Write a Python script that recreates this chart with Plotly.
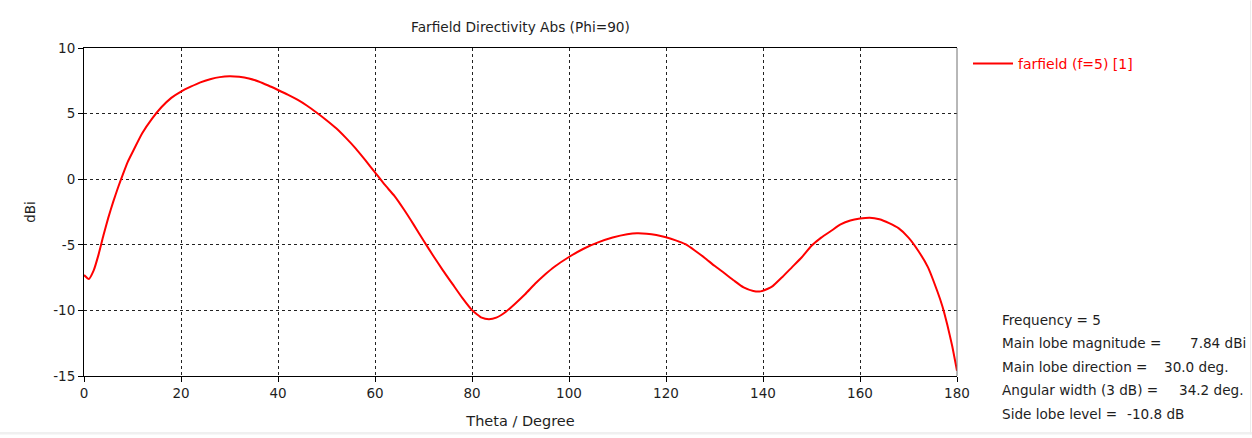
import plotly.graph_objects as go

# Farfield directivity cut at Phi=90, f=5
theta_deg = [0, 1, 2, 3, 4, 5, 6, 7, 8, 9, 10, 12, 14, 16, 18, 20, 22, 24, 26, 28,
             30, 32, 34, 36, 38, 40, 42, 44, 46, 48, 50, 52, 54, 56, 58, 60, 62, 64,
             66, 68, 70, 72, 74, 76, 78, 80, 82, 83.5, 85, 87, 89, 91, 93, 95, 97,
             100, 103, 106, 109, 112, 114, 116, 118, 120, 122, 124, 126, 128, 130,
             132, 134, 136, 138, 139.5, 141, 142, 144, 146, 148, 150, 152, 154, 156,
             158, 160, 162, 164, 166, 168, 170, 172, 174, 176, 177, 178, 179, 180]
directivity_dbi = [-7.3, -7.6, -6.95, -5.75, -4.3, -2.95, -1.75, -0.65, 0.35, 1.3, 2.05,
                   3.5, 4.6, 5.5, 6.2, 6.68, 7.05, 7.38, 7.62, 7.78, 7.84, 7.8, 7.68,
                   7.45, 7.14, 6.8, 6.45, 6.06, 5.6, 5.07, 4.5, 3.88, 3.15, 2.35, 1.45,
                   0.52, -0.42, -1.27, -2.33, -3.48, -4.68, -5.83, -6.95, -8.0, -9.05,
                   -9.98, -10.55, -10.67, -10.55, -10.1, -9.45, -8.75, -7.97, -7.28,
                   -6.67, -5.93, -5.3, -4.82, -4.45, -4.2, -4.12, -4.15, -4.25, -4.43,
                   -4.66, -4.95, -5.45, -6.0, -6.6, -7.15, -7.72, -8.25, -8.52, -8.55,
                   -8.35, -8.15, -7.45, -6.7, -5.95, -5.07, -4.45, -3.95, -3.45, -3.15,
                   -3.0, -2.93, -3.05, -3.35, -3.75, -4.45, -5.45, -6.7, -8.6, -9.7,
                   -11.1, -12.7, -14.6]

x_ticks = [0, 20, 40, 60, 80, 100, 120, 140, 160, 180]
y_ticks = [-15, -10, -5, 0, 5, 10]
y_tick_text = ["-15", "-10", "-5", "0", "5", "10"]

series_name = "farfield (f=5) [1]"
chart_title = "Farfield Directivity Abs (Phi=90)"

stat_labels = ["Frequency = 5", "Main lobe magnitude =", "Main lobe direction =",
               "Angular width (3 dB) =", "Side lobe level ="]
stat_values = ["", "7.84 dBi", "30.0 deg.", "34.2 deg.", "-10.8 dB"]

FONT = "DejaVu Sans"
TXT = "#1e1e1e"
W, H = 1252, 438
L, R, T, B = 84, 957, 48, 379


def px_x(p):
    return (p - L) / (R - L)


def px_y(p):
    return (B - p) / (B - T)


fig = go.Figure()
fig.add_trace(go.Scatter(
    x=theta_deg, y=directivity_dbi, mode="lines", name=series_name,
    line=dict(color="#ff0000", width=2, shape="spline", smoothing=0.5),
))

fig.update_layout(
    width=W, height=H,
    margin=dict(l=L, r=W - R, t=T, b=H - B),
    paper_bgcolor="white", plot_bgcolor="white",
    font=dict(family=FONT, size=13.5, color=TXT),
    title=dict(text=chart_title, x=px_x(520.5), xref="paper", xanchor="center",
               y=1 - 27 / H, yanchor="middle", font=dict(size=13.7, color=TXT)),
    showlegend=True,
    legend=dict(x=px_x(968), y=px_y(48), xanchor="left", yanchor="top",
                bgcolor="rgba(0,0,0,0)", font=dict(color="#ff0000", size=14),
                itemwidth=40),
    xaxis=dict(range=[0, 180], tickvals=x_ticks, ticks="outside", ticklen=5,
               tickcolor="#000", showline=True, linecolor="#000", linewidth=1,
               mirror=True, showgrid=True, gridcolor="#222", griddash="3px,3px",
               gridwidth=1, zeroline=False,
               title=dict(text="Theta / Degree", standoff=15, font=dict(size=14.5)),
               tickfont=dict(size=13.5)),
    yaxis=dict(range=[-15, 10], tickvals=y_ticks, ticktext=y_tick_text,
               ticks="outside", ticklen=5,
               tickcolor="#000", showline=True, linecolor="#000", linewidth=1,
               showgrid=True, gridcolor="#222", griddash="3px,3px", gridwidth=1,
               zeroline=False, title=dict(text="dBi", standoff=14, font=dict(size=13.5)),
               tickfont=dict(size=13.5)),
)

# right-hand frame edge in grey
fig.add_shape(type="line", xref="paper", yref="paper", x0=1, x1=1, y0=0, y1=1,
              line=dict(color="#707070", width=1))
# thin grey band along the bottom and faint edge on the right of the window
fig.add_shape(type="rect", xref="paper", yref="paper", x0=px_x(0), x1=px_x(W),
              y0=px_y(H), y1=px_y(435.5), line=dict(width=0), fillcolor="#f0f0f0",
              layer="below")
fig.add_shape(type="line", xref="paper", yref="paper", x0=px_x(1250.5), x1=px_x(1250.5),
              y0=px_y(0), y1=px_y(H), line=dict(color="#ececec", width=1), layer="below")

line_y = [322, 345.5, 369.5, 393.5, 417.5]
value_x = [None, 1188, 1162, 1177, 1125]
for lbl, val, yy, vx in zip(stat_labels, stat_values, line_y, value_x):
    fig.add_annotation(text=lbl, xref="paper", yref="paper", x=px_x(1000), y=px_y(yy),
                       xanchor="left", yanchor="middle", showarrow=False,
                       font=dict(size=13.6, color=TXT))
    if val:
        fig.add_annotation(text=val, xref="paper", yref="paper", x=px_x(vx), y=px_y(yy),
                           xanchor="left", yanchor="middle", showarrow=False,
                           font=dict(size=13.6, color=TXT))

fig.write_html("out.html")
